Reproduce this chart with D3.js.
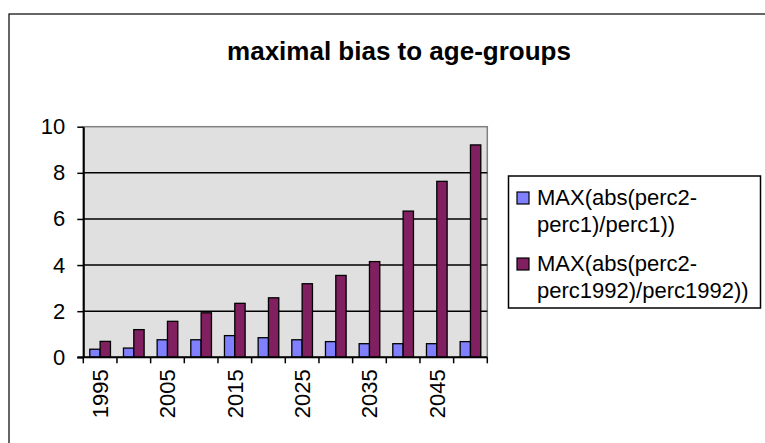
<!doctype html>
<html>
<head>
  <meta charset="utf-8">
  <title>maximal bias to age-groups</title>
  <script src="https://cdn.jsdelivr.net/npm/d3@7"></script>
  <style>
    body { margin: 0; background: #fff; }
    svg text { font-family: "Liberation Sans", Arial, sans-serif; fill: #000; }
  </style>
</head>
<body>
<div id="chart"></div>

<script type="text/javascript">
  // values
  var years = [1995, 2000, 2005, 2010, 2015, 2020, 2025, 2030, 2035, 2040, 2045, 2050];
  var biasPrev = [0.35, 0.40, 0.76, 0.76, 0.94, 0.85, 0.76, 0.68, 0.59, 0.59, 0.59, 0.68];
  var bias1992 = [0.69, 1.20, 1.56, 1.93, 2.34, 2.58, 3.19, 3.55, 4.15, 6.34, 7.63, 9.21];
  var yTicks = [0, 2, 4, 6, 8, 10];
  var seriesNames = [
    ["MAX(abs(perc2-", "perc1)/perc1))"],
    ["MAX(abs(perc2-", "perc1992)/perc1992))"]
  ];
  var seriesColors = ["#8080ff", "#802060"];

  var width = 765, height = 443;
  var plot = {left: 83.3, right: 487.3, top: 126.7, bottom: 357.3};

  var svg = d3.select("#chart").append("svg")
    .attr("width", width)
    .attr("height", height);

  // outer chart frame (runs off the right/bottom edge like the original)
  svg.append("rect")
    .attr("x", 9).attr("y", 14)
    .attr("width", 800).attr("height", 500)
    .attr("fill", "none")
    .attr("stroke", "#000")
    .attr("stroke-width", 1.2);

  svg.append("text")
    .attr("x", 399).attr("y", 60)
    .attr("text-anchor", "middle")
    .style("font-size", "26px")
    .style("font-weight", "bold")
    .text("maximal bias to age-groups");

  var x = d3.scaleBand().domain(years).range([plot.left, plot.right]);
  var y = d3.scaleLinear().domain([0, 10]).range([plot.bottom, plot.top]);
  var xs = d3.scaleBand().domain([0, 1])
    .range([0, x.bandwidth()]).paddingOuter(0.63).paddingInner(0);

  // plot background
  svg.append("rect")
    .attr("x", plot.left).attr("y", plot.top)
    .attr("width", plot.right - plot.left)
    .attr("height", plot.bottom - plot.top)
    .attr("fill", "#e0e0e0")
    .attr("stroke", "#808080")
    .attr("stroke-width", 1.5);

  // gridlines
  svg.append("g").selectAll("line")
    .data(yTicks.filter(function (d) { return d > 0 && d < 10; }))
    .enter().append("line")
    .attr("x1", plot.left).attr("x2", plot.right)
    .attr("y1", function (d) { return y(d); })
    .attr("y2", function (d) { return y(d); })
    .attr("stroke", "#000")
    .attr("stroke-width", 1.4);

  // bars
  var series = [biasPrev, bias1992];
  series.forEach(function (vals, si) {
    svg.append("g").selectAll("rect")
      .data(vals)
      .enter().append("rect")
      .attr("x", function (d, i) { return x(years[i]) + xs(si); })
      .attr("y", function (d) { return y(d); })
      .attr("width", xs.bandwidth())
      .attr("height", function (d) { return y(0) - y(d); })
      .attr("fill", seriesColors[si])
      .attr("stroke", "#000")
      .attr("stroke-width", 1.3);
  });

  // y axis
  var yAxis = svg.append("g")
    .attr("transform", "translate(" + plot.left + ",0)")
    .call(d3.axisLeft(y).tickValues(yTicks).tickSize(6).tickPadding(12).tickSizeOuter(0));
  yAxis.select(".domain").attr("stroke-width", 2);
  yAxis.selectAll(".tick line").attr("stroke-width", 1.5);
  yAxis.selectAll("text").style("font-size", "22px");

  // x axis: ticks on category boundaries
  var xg = svg.append("g");
  xg.append("line")
    .attr("x1", plot.left - 6).attr("x2", plot.right)
    .attr("y1", plot.bottom).attr("y2", plot.bottom)
    .attr("stroke", "#000").attr("stroke-width", 2);
  xg.selectAll(".btick")
    .data(years.concat(["end"]))
    .enter().append("line")
    .attr("x1", function (d, i) { return plot.left + i * x.bandwidth(); })
    .attr("x2", function (d, i) { return plot.left + i * x.bandwidth(); })
    .attr("y1", plot.bottom).attr("y2", plot.bottom + 6)
    .attr("stroke", "#000").attr("stroke-width", 1.5);

  // every other year label, rotated
  xg.selectAll(".xlab")
    .data(years.filter(function (d, i) { return i % 2 === 0; }))
    .enter().append("text")
    .attr("transform", function (d) {
      return "translate(" + (x(d) + x.bandwidth() / 2) + "," + (plot.bottom + 12) + ") rotate(-90)";
    })
    .attr("text-anchor", "end")
    .attr("dy", "0.36em")
    .style("font-size", "22px")
    .text(function (d) { return d; });

  // legend
  var lg = svg.append("g");
  lg.append("rect")
    .attr("x", 508.5).attr("y", 176)
    .attr("width", 252).attr("height", 132)
    .attr("fill", "#fff")
    .attr("stroke", "#000")
    .attr("stroke-width", 1.5);

  seriesNames.forEach(function (lines, si) {
    var base = 205 + si * 66;
    lg.append("rect")
      .attr("x", 517).attr("y", base - 13)
      .attr("width", 12).attr("height", 12)
      .attr("fill", seriesColors[si])
      .attr("stroke", "#000")
      .attr("stroke-width", 1.2);
    lines.forEach(function (t, li) {
      lg.append("text")
        .attr("x", 537).attr("y", base + li * 26.5)
        .style("font-size", "22px")
        .text(t);
    });
  });
</script>
</body>
</html>
